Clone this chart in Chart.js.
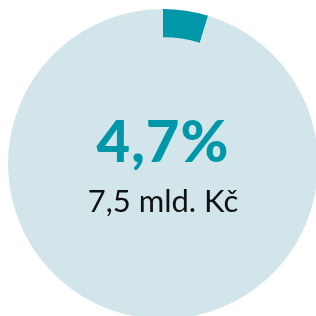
<!DOCTYPE html>
<html lang="cs">
<head>
    <meta charset="UTF-8">
    <title>Podíl</title>
    <script src="https://cdn.jsdelivr.net/npm/chart.js"></script>
    <style>
        html, body { margin: 0; padding: 0; background: #fff; overflow: hidden; }
        #wrap { position: relative; width: 326px; height: 328px; }
        .lbl { position: absolute; left: 0; width: 326px; text-align: center; white-space: nowrap; }
        #pct { top: 105px; font: 900 58px Lato, sans-serif; color: #0098a8; letter-spacing: 1px; }
        #amt { top: 181px; font: 400 31px Lato, sans-serif; color: #111; }
    </style>
</head>
<body>
    <div id="wrap">
        <canvas id="myChart" width="326" height="328"></canvas>
        <div class="lbl" id="pct"></div>
        <div class="lbl" id="amt"></div>
    </div>
    <script>
        // hodnoty z obrázku
        const labels = ['Podíl', 'Zbytek'];
        const shareValues = [4.7, 95.3];
        const fillValues = [100];
        const pctText = '4,7%';
        const amountText = '7,5 mld. Kč';

        document.getElementById('pct').textContent = pctText;
        document.getElementById('amt').textContent = amountText;

        var ctx = document.getElementById('myChart').getContext('2d');
        var myChart = new Chart(ctx, {
            type: 'doughnut',
            data: {
                labels: labels,
                datasets: [{
                    data: shareValues,
                    backgroundColor: ['#0098a8', '#d1e5ea'],
                    borderWidth: 0,
                    weight: 28
                }, {
                    data: fillValues,
                    backgroundColor: ['#d1e5ea'],
                    borderColor: '#d1e5ea',
                    borderWidth: 2,
                    weight: 126
                }]
            },
            options: {
                responsive: false,
                animation: false,
                cutout: 0,
                layout: { padding: 8 },
                plugins: {
                    legend: { display: false },
                    tooltip: { enabled: false }
                }
            }
        });
    </script>
</body>
</html>
